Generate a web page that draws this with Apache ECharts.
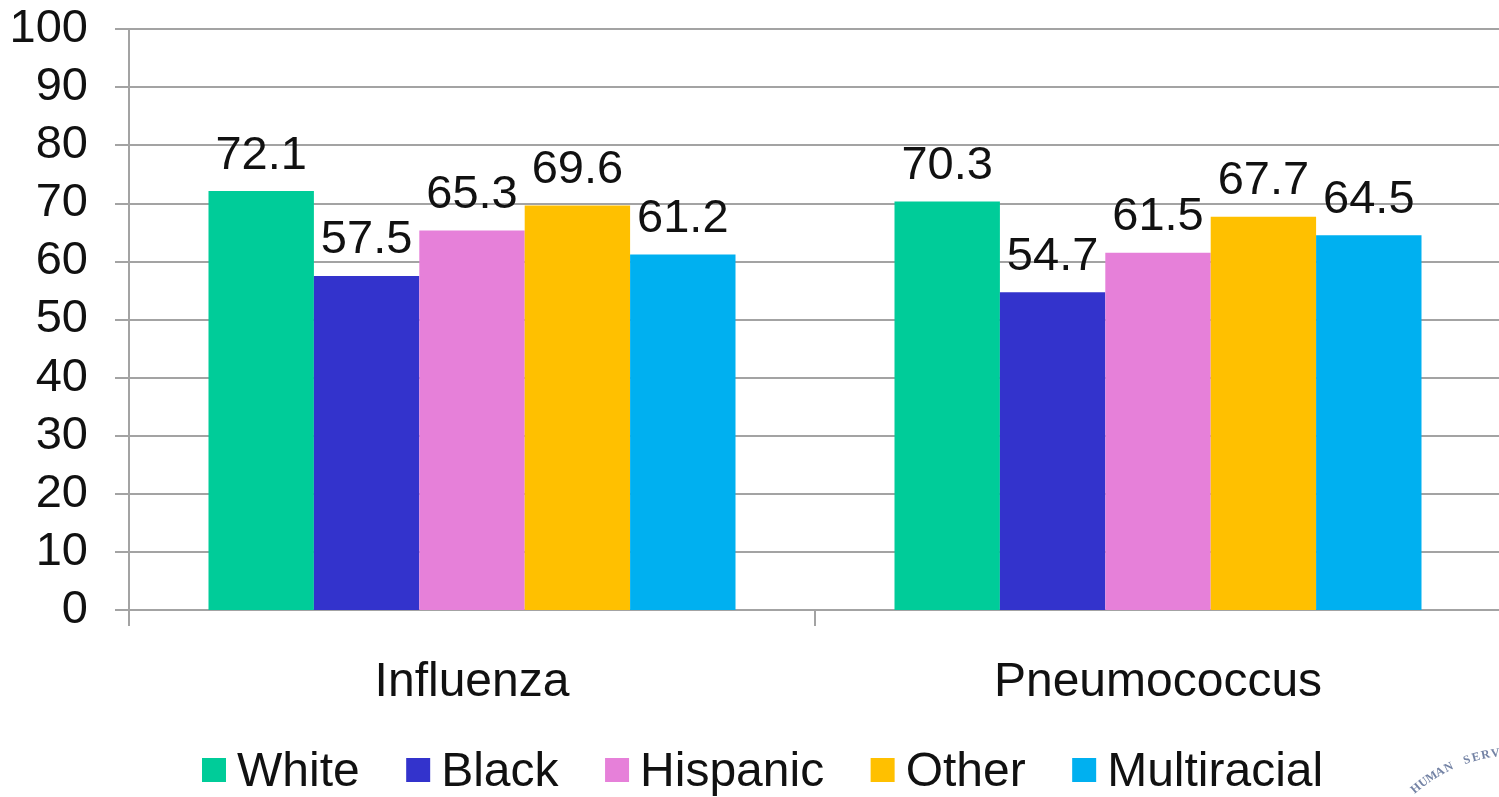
<!DOCTYPE html>
<html>
<head>
<meta charset="utf-8">
<script src="https://cdn.jsdelivr.net/npm/echarts@6/dist/echarts.min.js"></script>
<style>
html, body { margin: 0; padding: 0; background: #fff; }
#chart { width: 1499px; height: 797px; }
</style>
</head>
<body>
<div id="chart"></div>
<script>
var categories = ["Influenza", "Pneumococcus"];
var white = [72.1, 70.3];
var black = [57.5, 54.7];
var hispanic = [65.3, 61.5];
var other = [69.6, 67.7];
var multiracial = [61.2, 64.5];

var names = ["White", "Black", "Hispanic", "Other", "Multiracial"];
var values = [white, black, hispanic, other, multiracial];
var colors = ["#00cc99", "#3333cc", "#e680d9", "#ffc000", "#00b0f0"];
var lineColor = "#a3a3a3";

var font = '"Liberation Sans", Arial, sans-serif';
var myChart = echarts.init(document.getElementById("chart"));

// bit of the seal that is cut off in the bottom right corner
var sealText = "HUMAN SERV";
var seal = sealText.split("").map(function (ch, i) {
  var a = (40 - i * 3.56) * Math.PI / 180;
  return {
    type: "text",
    x: 1517 - 157 * Math.sin(a),
    y: 909 - 157 * Math.cos(a),
    rotation: a,
    style: {
      text: ch,
      fill: "#5b6c94",
      font: "bold 12px 'Liberation Serif', serif",
      align: "center",
      verticalAlign: "middle",
      opacity: 0.85
    }
  };
});

myChart.setOption({
  animation: false,
  textStyle: { fontFamily: font },
  // the plot runs past the right edge of the picture, so no clamping
  grid: { left: 129, width: 1372, top: 29, bottom: 187, outerBoundsMode: "none" },
  legend: {
    top: 749,
    left: 202,
    padding: 0,
    itemWidth: 24,
    itemHeight: 30,
    itemGap: 46.5,
    // square sits a little above the text middle, the tiny speck stretches the icon box
    icon: "path://M0 0H24V24H0Z M0 30H0.01V30.01H0Z",
    data: names,
    textStyle: { fontSize: 48, color: "#111", fontFamily: font, padding: [0, 0, 0, 6] }
  },
  graphic: seal,
  xAxis: {
    type: "category",
    data: categories,
    axisLine: { lineStyle: { color: lineColor, width: 2 } },
    axisTick: { show: true, length: 16, lineStyle: { color: lineColor, width: 2 } },
    axisLabel: { fontSize: 48, color: "#111", margin: 49, fontFamily: font }
  },
  yAxis: {
    type: "value",
    min: 0,
    max: 100,
    interval: 10,
    axisLine: { show: true, lineStyle: { color: lineColor, width: 2 } },
    axisTick: { show: true, length: 14, lineStyle: { color: lineColor, width: 2 } },
    axisLabel: { fontSize: 47, color: "#111", margin: 41, fontFamily: font },
    splitLine: { lineStyle: { color: lineColor, width: 2 } }
  },
  series: names.map(function (name, i) {
    return {
      name: name,
      type: "bar",
      data: values[i],
      barWidth: 105.4,
      barGap: "0%",
      itemStyle: { color: colors[i] },
      label: {
        show: true,
        position: "top",
        distance: 12,
        fontSize: 47,
        color: "#111",
        fontFamily: font,
        formatter: function (p) { return p.value.toFixed(1); }
      }
    };
  })
});
</script>
</body>
</html>
